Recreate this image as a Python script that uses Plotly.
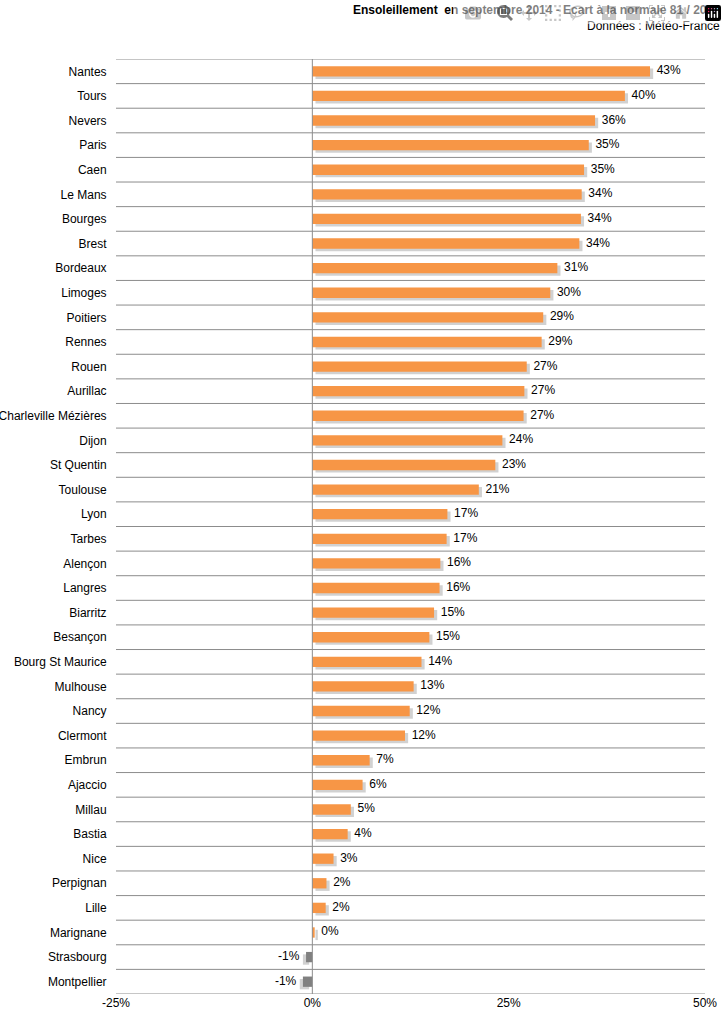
import plotly.graph_objects as go

cities = ["Nantes","Tours","Nevers","Paris","Caen","Le Mans","Bourges","Brest","Bordeaux","Limoges",
          "Poitiers","Rennes","Rouen","Aurillac","Charleville Mézières","Dijon","St Quentin","Toulouse",
          "Lyon","Tarbes","Alençon","Langres","Biarritz","Besançon","Bourg St Maurice","Mulhouse","Nancy",
          "Clermont","Embrun","Ajaccio","Millau","Bastia","Nice","Perpignan","Lille","Marignane",
          "Strasbourg","Montpellier"]
values = [43.0,39.8,36.0,35.2,34.6,34.3,34.2,34.0,31.2,30.3,
          29.4,29.2,27.3,27.0,26.9,24.2,23.3,21.2,
          17.2,17.1,16.3,16.2,15.5,14.9,13.9,12.9,12.4,
          11.8,7.3,6.4,4.9,4.5,2.7,1.8,1.7,0.3,
          -0.8,-1.2]
labels = ["43%","40%","36%","35%","35%","34%","34%","34%","31%","30%",
          "29%","29%","27%","27%","27%","24%","23%","21%",
          "17%","17%","16%","16%","15%","15%","14%","13%","12%",
          "12%","7%","6%","5%","4%","3%","2%","2%","0%",
          "-1%","-1%"]
xticks = [-25, 0, 25, 50]
xticklabels = ["-25%", "0%", "25%", "50%"]

colors = ["#F79646" if v >= 0 else "#808080" for v in values]
n = len(cities)
yidx = list(range(n))

fig = go.Figure()
# shadow
fig.add_trace(go.Bar(x=values, y=[i + 0.1 for i in yidx], orientation="h", width=0.42,
                     marker=dict(color="rgba(0,0,0,0.18)", line_width=0), hoverinfo="skip",
                     base=[0.4 if v >= 0 else -0.4 for v in values]))
fig.add_trace(go.Bar(x=values, y=yidx, orientation="h", width=0.42,
                     marker=dict(color=colors, line_width=0)))
fig.add_trace(go.Scatter(x=values, y=yidx, mode="text",
                         text=["  " + t if v >= 0 else t + "  " for t, v in zip(labels, values)],
                         textposition=["middle right" if v >= 0 else "middle left" for v in values],
                         textfont=dict(size=12, color="#000000"), cliponaxis=False, hoverinfo="skip"))

shapes = []
for i in range(n + 1):
    shapes.append(dict(type="line", xref="paper", yref="y", x0=0, x1=1, y0=i - 0.5, y1=i - 0.5,
                       line=dict(color="#8C8C8C", width=1)))
shapes.append(dict(type="line", xref="x", yref="paper", x0=0, x1=0, y0=0, y1=1,
                   line=dict(color="#8C8C8C", width=1)))

fig.update_layout(
    width=727, height=1020, barmode="overlay", showlegend=False,
    margin=dict(l=116, r=22, t=59, b=26, autoexpand=False),
    paper_bgcolor="white", plot_bgcolor="white",
    font=dict(family="Liberation Sans, Arial", size=12, color="#000000"),
    shapes=shapes,
    xaxis=dict(range=[-25, 50], tickvals=xticks, ticktext=xticklabels, showgrid=False,
               zeroline=False, showline=False, ticks="", tickfont=dict(size=12), automargin=False),
    yaxis=dict(range=[n - 0.5, -0.5], tickvals=yidx, ticktext=cities, showgrid=False,
               zeroline=False, showline=False, ticks="outside", ticklen=6, tickcolor="white",
               tickfont=dict(size=12), automargin=False),
    annotations=[
        dict(text="<b>Ensoleillement  en septembre 2014 - Ecart à la normale 81 / 2010</b>",
             xref="paper", yref="paper", x=1.029, y=1.0, yshift=58, xanchor="right", yanchor="top",
             showarrow=False, font=dict(size=12)),
        dict(text="Données : Météo-France", xref="paper", yref="paper", x=1.029, y=1.0, yshift=42,
             xanchor="right", yanchor="top", showarrow=False, font=dict(size=12)),
    ],
)
fig.write_html("out.html", post_script=["document.body.style.margin='0';document.body.style.overflow='hidden';"])
